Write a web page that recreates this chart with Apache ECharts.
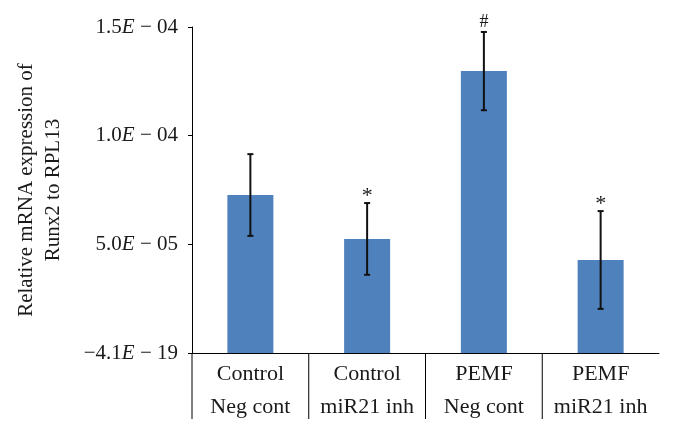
<!DOCTYPE html>
<html>
<head>
<meta charset="utf-8">
<script src="https://cdn.jsdelivr.net/npm/echarts@6/dist/echarts.min.js"></script>
<style>html,body{margin:0;padding:0;background:#fff}#c{width:675px;height:434px}</style>
</head>
<body>
<div id="c"></div>
<script>
const categories = ['Control\nNeg cont', 'Control\nmiR21 inh', 'PEMF\nNeg cont', 'PEMF\nmiR21 inh'];
const means = [7.27e-5, 5.25e-5, 12.97e-5, 4.28e-5];
const errors = [1.88e-5, 1.65e-5, 1.8e-5, 2.25e-5];
const sigMarks = ['', '*', '#', '*'];
const yTickValues = [0, 5e-5, 1e-4, 1.5e-4];
const yTickLabels = ['\u22124.1E \u2212 19', '5.0E \u2212 05', '1.0E \u2212 04', '1.5E \u2212 04'];
const yTitle = 'Relative mRNA expression of\nRunx2 to RPL13';

const FONT = '"Liberation Serif", "DejaVu Serif", serif';
const TXT = '#1a1a1a';

const chart = echarts.init(document.getElementById('c'));

function fmtY(v) {
  let idx = -1;
  yTickValues.forEach((t, i) => { if (Math.abs(t - v) < 1e-9) idx = i; });
  if (idx < 0) return '';
  const parts = yTickLabels[idx].split('E');
  return '{a|' + parts[0] + '}{e|E}{a|' + parts[1] + '}';
}

chart.setOption({
  animation: false,
  backgroundColor: '#fff',
  grid: { left: 192, right: 16, top: 27, bottom: 81, containLabel: false },
  xAxis: {
    type: 'category',
    data: categories,
    boundaryGap: true,
    axisLine: { lineStyle: { color: '#000', width: 1 } },
    axisTick: { show: false },
    axisLabel: { fontFamily: FONT, fontSize: 22, lineHeight: 33, color: TXT, margin: 5, interval: 0 }
  },
  yAxis: {
    type: 'value',
    min: 0, max: 1.5e-4, interval: 5e-5,
    splitLine: { show: false },
    axisLine: { show: true, lineStyle: { color: '#000', width: 1 } },
    axisTick: { show: true, length: 4, lineStyle: { color: '#000' } },
    axisLabel: {
      margin: 14,
      formatter: fmtY,
      rich: {
        a: { fontFamily: FONT, fontSize: 21, color: TXT },
        e: { fontFamily: FONT, fontSize: 21, fontStyle: 'italic', color: TXT }
      }
    },
    name: yTitle,
    nameLocation: 'middle',
    nameRotate: 90,
    nameGap: 125,
    nameTextStyle: { fontFamily: FONT, fontSize: 21, lineHeight: 27, color: TXT, align: 'center' }
  },
  series: [
    {
      type: 'bar',
      data: means,
      barWidth: 46,
      itemStyle: { color: '#4F81BD' },
      z: 2
    },
    {
      type: 'custom',
      clip: false,
      z: 5,
      data: means.map((m, i) => [i, m, errors[i]]),
      renderItem: function (params, api) {
        const i = api.value(0), m = api.value(1), e = api.value(2);
        const top = api.coord([i, m + e]);
        const bot = api.coord([i, m - e]);
        const base = api.coord([i, 0]);
        const bw = api.size([1, 0])[0];
        const x = top[0];
        const cap = 3;
        const ls = { stroke: '#111', lineWidth: 2 };
        const children = [
          { type: 'line', shape: { x1: x, y1: top[1], x2: x, y2: bot[1] }, style: ls },
          { type: 'line', shape: { x1: x - cap, y1: top[1], x2: x + cap, y2: top[1] }, style: ls },
          { type: 'line', shape: { x1: x - cap, y1: bot[1], x2: x + cap, y2: bot[1] }, style: ls },
          { type: 'line', shape: { x1: x - bw / 2, y1: base[1], x2: x - bw / 2, y2: base[1] + 66 }, style: { stroke: '#000', lineWidth: 1 } }
        ];
        const mk = sigMarks[params.dataIndex];
        if (mk) {
          children.push({ type: 'text', style: { text: mk, x: x, y: top[1] + (mk === '#' ? -1 : 4), align: 'center', verticalAlign: 'bottom', font: (mk === '#' ? '18px ' : '22px ') + FONT, fill: TXT } });
        }
        return { type: 'group', children: children };
      }
    }
  ]
});
</script>
</body>
</html>
